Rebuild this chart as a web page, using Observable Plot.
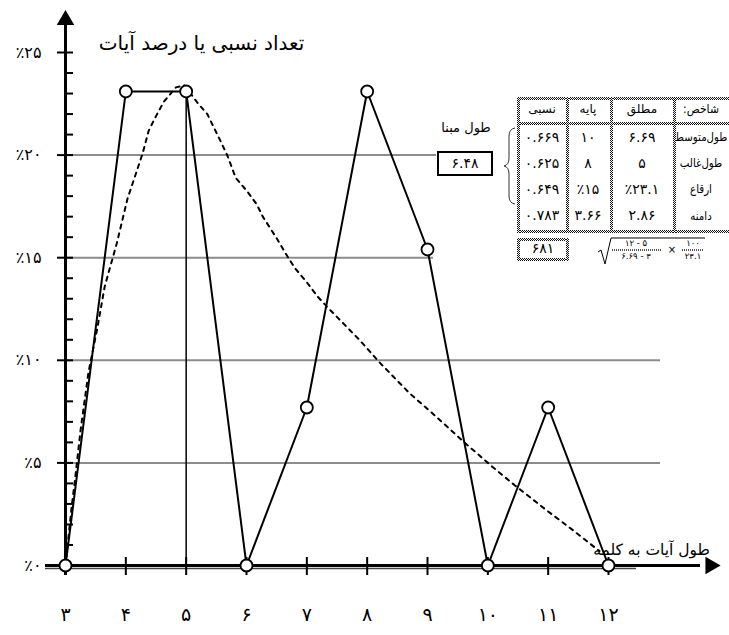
<!DOCTYPE html>
<html><head><meta charset="utf-8">
<script src="https://cdn.jsdelivr.net/npm/d3@7"></script>
<script src="https://cdn.jsdelivr.net/npm/@observablehq/plot@0.6"></script>
<style>
html,body{margin:0;padding:0;background:#fff;overflow:hidden;}
#wrap{position:relative;width:729px;height:635px;overflow:hidden;font-family:"DejaVu Sans",sans-serif;color:#000;}
#wrap svg{position:absolute;left:0;top:0;}
.ck{position:absolute;background:repeating-conic-gradient(#111 0 25%,#fff 0 50%) 0 0/2px 2px;}
.cell{position:absolute;text-align:center;font-size:12px;line-height:1;white-space:nowrap;}
.lbl{position:absolute;white-space:nowrap;}
</style></head><body><div id="wrap"></div>
<script>
// ---------- data ----------
const wordLengths = [3,4,5,6,7,8,9,10,11,12];
const xTickLabels = ["۳","۴","۵","۶","۷","۸","۹","۱۰","۱۱","۱۲"];
const percents = [0,23.1,23.1,0,7.7,23.1,15.4,0,7.7,0];
const yMajor = [0,5,10,15,20,25];
const yTickLabels = ["٪۰","٪۵","٪۱۰","٪۱۵","٪۲۰","٪۲۵"];
const yMinor = d3.range(1,25).filter(v => v % 5 !== 0);
const gridValues = [5,10,15,20];
const curveX = [3,3.1,3.17,3.25,3.38,3.53,3.65,3.85,4.03,4.19,4.28,4.38,4.5,4.63,4.83,4.97,5.2,5.35,5.55,5.68,5.82,6.02,6.17,6.27,6.51,6.65,6.8,7.0,7.18,7.37,7.87,8.22,8.7,9.05,9.63,10.08,10.45,10.97,11.42,11.85];
const curveY = [0,2.8,4.5,6.6,9.4,11.6,13.6,15.7,17.9,19.3,20.1,21.2,21.9,22.6,23.3,23.4,22.5,22.0,20.8,20.0,18.9,18.2,17.6,17.0,15.9,15.2,14.5,13.8,13.1,12.5,11.0,9.85,8.4,7.5,5.95,4.8,3.9,2.7,1.7,0.7];
const modeLength = 5, modePercent = 23.1;
const yTitle = "تعداد نسبی یا درصد آیات";
const xTitle = "طول آیات به کلمه";
const tableHeader = ["نسبی","پایه","مطلق","شاخص:"];
const rowLabels = ["طول‌متوسط","طول‌غالب","ارقاع","دامنه"];
const absoluteVals = ["۶.۶۹","۵","٪۲۳.۱","۲.۸۶"];
const baseVals = ["۱۰","۸","٪۱۵","۳.۶۶"];
const relativeVals = ["۰.۶۶۹","۰.۶۲۵","۰.۶۴۹","۰.۷۸۳"];
const baseLengthLabel = "طول مبنا";
const baseLengthValue = "۶.۴۸";
const sumValue = "۶۸۱";

// ---------- layout ----------
const W = 729, H = 635, ML = 65, MR = 121, MT = 52, MB = 70;
const pxX = (W - ML - MR) / 9, pxY = (H - MT - MB) / 25;
const toX = px => 3 + (px - ML) / pxX;      // pixel -> data (layout helper)
const toY = py => (H - MB - py) / pxY;
const gridEnd = {5: toX(660), 10: toX(660), 15: toX(433), 20: toX(436)};

const series = wordLengths.map((x,i) => ({x, y: percents[i], label: xTickLabels[i]}));
const curve = curveX.map((x,i) => ({x, y: curveY[i]}));
const grid = gridValues.map(v => ({v, end: gridEnd[v]}));
const yTicks = yMajor.map((v,i) => ({v, label: yTickLabels[i]}));

const chart = Plot.plot({
  width: W, height: H, marginLeft: ML, marginRight: MR, marginTop: MT, marginBottom: MB,
  x: {domain: [3,12], axis: null},
  y: {domain: [0,25], axis: null},
  style: {fontFamily: "DejaVu Sans", background: "transparent", overflow: "visible"},
  marks: [
    Plot.ruleY(grid, {y: "v", x1: 3, x2: "end", stroke: "#8c8c8c", strokeWidth: 2}),
    Plot.ruleY([0], {x1: toX(45), x2: toX(636), dy: 3, stroke: "#444", strokeWidth: 1.5}),
    Plot.line(curve, {x: "x", y: "y", stroke: "#000", strokeWidth: 2, strokeDasharray: "4,5"}),
    Plot.ruleX([modeLength], {y1: 0, y2: modePercent, stroke: "#000", strokeWidth: 1.5}),
    Plot.line(series, {x: "x", y: "y", stroke: "#000", strokeWidth: 2}),
    Plot.ruleY([0], {x1: toX(45), x2: toX(700), stroke: "#000", strokeWidth: 3}),
    Plot.ruleX(wordLengths, {y1: toY(575), y2: toY(557), stroke: "#000", strokeWidth: 2}),
    Plot.ruleX([3], {y1: toY(575), y2: toY(22), stroke: "#000", strokeWidth: 3}),
    Plot.ruleY(yMajor.slice(1), {y: d => d, x1: toX(57), x2: toX(73), stroke: "#000", strokeWidth: 2}),
    Plot.ruleY(yMinor, {y: d => d, x1: 3, x2: toX(73), stroke: "#000", strokeWidth: 2}),
    Plot.dot(series, {x: "x", y: "y", r: 6, fill: "#fff", stroke: "#000", strokeWidth: 1.8}),
    Plot.dot([0], {x: 3, y: toY(19.5), symbol: "triangle", r: 6.5, fill: "#000", stroke: null}),
    Plot.dot([0], {x: toX(710), y: 0, symbol: "triangle", r: 6.5, rotate: 90, fill: "#000", stroke: null}),
    Plot.text(yTicks, {x: 3, y: "v", text: "label", dx: -24, textAnchor: "end", fontSize: 16, fill: "#000"}),
    Plot.text(series, {x: "x", y: 0, text: "label", dy: 49, fontSize: 19, fill: "#000"}),
    Plot.text([yTitle], {x: toX(201), y: toY(43), text: d => d, fontSize: 20, fill: "#000"}),
    Plot.text([xTitle], {x: toX(651), y: toY(550), text: d => d, fontSize: 15.5, fill: "#000"})
  ]
});
const wrap = document.getElementById("wrap");
wrap.appendChild(chart);

// ---------- annotation table (HTML overlay) ----------
function ck(l,t,w,h){const d=document.createElement("div");d.className="ck";Object.assign(d.style,{left:l+"px",top:t+"px",width:w+"px",height:h+"px"});wrap.appendChild(d);}
function cell(txt,cx,cy,fs,sx){const d=document.createElement("div");d.className="cell";d.dir="rtl";d.textContent=txt;d.style.left=(cx-40)+"px";d.style.width="80px";d.style.top=(cy-fs*0.6)+"px";d.style.fontSize=fs+"px";if(sx)d.style.transform="scaleX("+sx+")";wrap.appendChild(d);return d;}
const tL=517,tT=97,tR=770,hdrB=122,tB=230;
const colEdges=[517,566,610,673];
const colCenters=[542,588,642,701];
ck(tL,tT,tR-tL,3); ck(tL,hdrB,tR-tL,3); ck(tL,tB,tR-tL,3);
colEdges.forEach(x=>ck(x,tT,3,tB-tT+3));
tableHeader.forEach((h,i)=>cell(h,colCenters[i],110,12,i===3?0.9:0));
const rowH=(tB-hdrB-3)/4;
rowLabels.forEach((lab,r)=>{
  const cy=hdrB+3+rowH*(r+0.5);
  cell(relativeVals[r],colCenters[0],cy,14);
  cell(baseVals[r],colCenters[1],cy,14);
  cell(absoluteVals[r],colCenters[2],cy,14);
  cell(lab,colCenters[3],cy,12,0.85);
});
// sum box
ck(517,238,52,3); ck(517,258,52,3); ck(517,238,3,23); ck(566,238,3,23);
cell(sumValue,543,249,14);
// base length box
const bl=document.createElement("div");bl.className="lbl";
Object.assign(bl.style,{left:"437px",top:"151px",width:"52px",height:"21px",border:"2.5px solid #000",fontSize:"14px",textAlign:"center",lineHeight:"21px"});
bl.textContent=baseLengthValue;wrap.appendChild(bl);
cell(baseLengthLabel,466,129,13);
// brace + formula (svg overlay)
const ns="http://www.w3.org/2000/svg";
const ov=document.createElementNS(ns,"svg");ov.setAttribute("width",W);ov.setAttribute("height",H);ov.style.pointerEvents="none";
ov.innerHTML=`<path d="M515,128 Q509,129 509,136 L509,158 Q509,165 504,166 Q509,167 509,174 L509,196 Q509,203 515,204" fill="none" stroke="#333" stroke-width="1"/>
<path d="M598,252 L601,250 L605,264 L611,238 L705,238" fill="none" stroke="#000" stroke-width="1"/>
<g font-family="DejaVu Sans" font-size="8.5" text-anchor="middle" fill="#000">
<text x="636" y="246">${"۱۲ - ۵"}</text>
<line x1="612" y1="250" x2="662" y2="250" stroke="#555" stroke-width="2" stroke-dasharray="1,1"/>
<text x="636" y="259">${"۶.۶۹ - ۳"}</text>
<text x="672" y="253" font-size="10">×</text>
<text x="693" y="246">${"۱۰۰"}</text>
<line x1="682" y1="250" x2="704" y2="250" stroke="#555" stroke-width="2" stroke-dasharray="1,1"/>
<text x="693" y="259">${"۲۳.۱"}</text>
</g>`;
wrap.appendChild(ov);
</script></body></html>
